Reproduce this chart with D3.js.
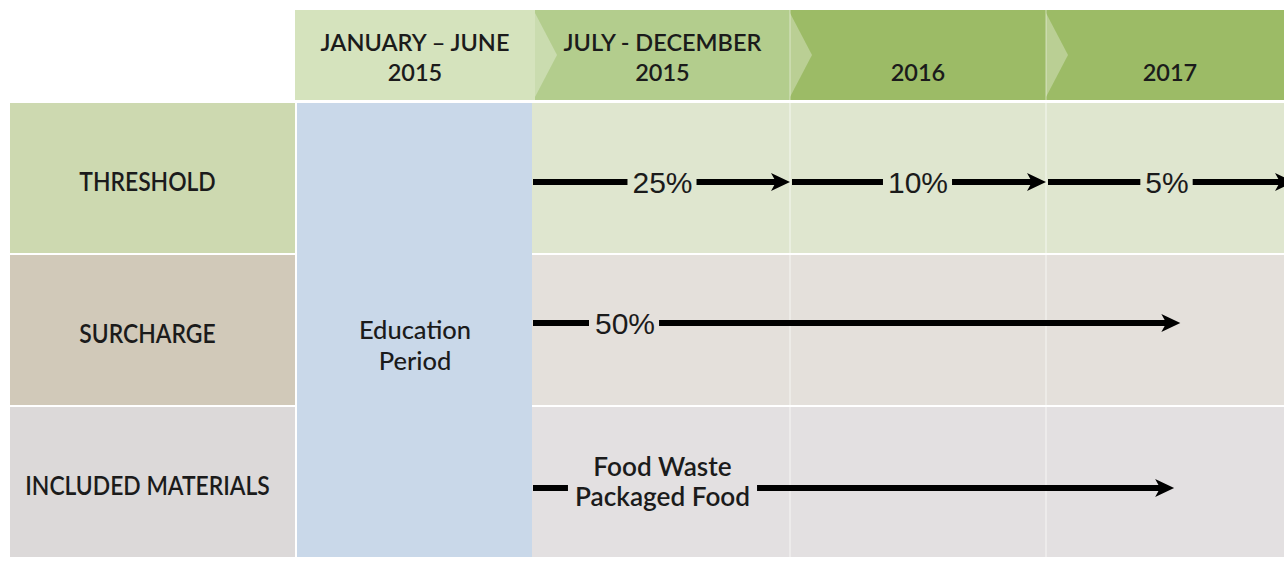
<!DOCTYPE html>
<html>
<head>
<meta charset="utf-8">
<script src="https://cdn.jsdelivr.net/npm/d3@7"></script>
<style>
  body { margin: 0; background: #fff; }
</style>
</head>
<body>
<div class="chart"></div>
<script>
//Timeline data
var periods = [["JANUARY – JUNE", "2015"], ["JULY - DECEMBER", "2015"], ["2016"], ["2017"]];
var periodStart = [0, 6, 12, 24, 36]; // months from Jan 2015
var rows = ["THRESHOLD", "SURCHARGE", "INCLUDED MATERIALS"];
var educationLabel = ["Education", "Period"];

var thresholdLabels = ["25%", "10%", "5%"];
var thresholdFrom = [6, 12, 24];
var thresholdTo = [12, 24, 36];

var surchargeLabel = "50%";
var surchargeFrom = 6;
var surchargeTo = 30.5;

var materials = ["Food Waste", "Packaged Food"];
var materialsFrom = 6;
var materialsTo = 30.2;

//Colours
var headerColors = ["#d5e3bd", "#b3cd8d", "#9cbb66", "#9cbb66"];
var labelColors = ["#cdd9b0", "#d1c9b9", "#dcd9d9"];
var bodyColors = ["#dfe6cf", "#e4e0db", "#e3e0e1"];
var eduColor = "#c9d8e9";
var ink = "#1b1b1b";

//Width and height
var w = 1284;
var h = 562;
var headTop = 10, headBottom = 100;
var labelLeft = 10;

var svg = d3.select(".chart")
    .append("svg")
    .attr("width", w)
    .attr("height", h);

//Scales
var x = d3.scaleLinear()
    .domain(periodStart)
    .range([295, 535, 790, 1046, 1294]);

var y = d3.scaleBand()
    .domain(rows)
    .range([103, 557])
    .paddingInner(0.013);

var arrowDy = [4, -7, 6];

//Header segments
var header = svg.append("g");
header.selectAll("rect")
    .data(periods)
    .join("rect")
    .attr("x", (d, i) => x(periodStart[i]))
    .attr("y", headTop)
    .attr("width", (d, i) => x(periodStart[i + 1]) - x(periodStart[i]))
    .attr("height", headBottom - headTop)
    .attr("fill", (d, i) => headerColors[i]);

var bounds = periodStart.slice(1, 4).map(d => x(d));
header.selectAll("line")
    .data(bounds.slice(1))
    .join("line")
    .attr("x1", d => d).attr("x2", d => d)
    .attr("y1", headTop).attr("y2", headBottom)
    .attr("stroke", "#fff").attr("stroke-opacity", 0.5);

header.selectAll(".chev")
    .data(bounds)
    .join("path")
    .attr("class", "chev")
    .attr("d", d => `M${d},${headTop + 3}L${d + 22},${(headTop + headBottom) / 2}L${d},${headBottom - 3}Z`)
    .attr("fill", "#fff")
    .attr("fill-opacity", 0.3);

//Header text
header.selectAll(".ht")
    .data(periods)
    .join("text")
    .attr("class", "ht")
    .attr("transform", (d, i) => `translate(${(x(periodStart[i]) + x(periodStart[i + 1])) / 2},0)`)
    .attr("text-anchor", "middle")
    .style("font-family", "Lato, sans-serif")
    .style("font-weight", 600)
    .style("font-size", "23.5px")
    .attr("fill", ink)
    .selectAll("tspan")
    .data(d => d.map((t, k) => ({t: t, k: k, n: d.length})))
    .join("tspan")
    .attr("x", 0)
    .attr("y", d => 81 - (d.n - 1 - d.k) * 30)
    .text(d => d.t);

//Row label cells and body
var body = svg.append("g");
body.selectAll(".lab")
    .data(rows)
    .join("rect")
    .attr("class", "lab")
    .attr("x", labelLeft)
    .attr("y", d => y(d))
    .attr("width", x(0) - labelLeft)
    .attr("height", y.bandwidth())
    .attr("fill", (d, i) => labelColors[i]);

body.selectAll(".cell")
    .data(rows)
    .join("rect")
    .attr("class", "cell")
    .attr("x", x(6) - 3)
    .attr("y", d => y(d))
    .attr("width", w - x(6) + 3)
    .attr("height", y.bandwidth())
    .attr("fill", (d, i) => bodyColors[i]);

body.selectAll(".sep")
    .data(bounds.slice(1))
    .join("line")
    .attr("class", "sep")
    .attr("x1", d => d).attr("x2", d => d)
    .attr("y1", y.range()[0]).attr("y2", y.range()[1])
    .attr("stroke", "#fff").attr("stroke-width", 2).attr("stroke-opacity", 0.35);

//Education period column
body.append("rect")
    .attr("x", x(0) + 2)
    .attr("y", y.range()[0])
    .attr("width", x(6) - x(0) - 5)
    .attr("height", y.range()[1] - y.range()[0])
    .attr("fill", eduColor);

body.append("text")
    .attr("transform", `translate(${(x(0) + x(6)) / 2},${y("SURCHARGE") + y.bandwidth() / 2})`)
    .attr("text-anchor", "middle")
    .style("font-family", "Lato, sans-serif")
    .style("font-weight", 500)
    .style("font-size", "25.5px")
    .attr("fill", ink)
    .selectAll("tspan")
    .data(educationLabel)
    .join("tspan")
    .attr("x", 0)
    .attr("y", (d, i) => i * 31)
    .attr("dy", "0.35em")
    .text(d => d);

//Row labels
body.selectAll(".rl")
    .data(rows)
    .join("text")
    .attr("class", "rl")
    .attr("transform", d => `translate(${(labelLeft + x(0)) / 2 - 5},${y(d) + y.bandwidth() / 2 + 4}) scale(0.88,1)`)
    .attr("text-anchor", "middle")
    .attr("dy", "0.35em")
    .style("font-family", "Lato, sans-serif")
    .style("font-weight", 600)
    .style("font-size", "26px")
    .attr("fill", ink)
    .text(d => d);

//Arrows
var arrows = svg.append("g");

function segment(x0, x1, yy) {
    arrows.append("line")
        .attr("x1", x0).attr("x2", x1)
        .attr("y1", yy).attr("y2", yy)
        .attr("stroke", "#000").attr("stroke-width", 6);
}

function head(tip, yy) {
    arrows.append("path")
        .attr("d", `M${tip},${yy}L${tip - 19},${yy - 9}L${tip - 14},${yy}L${tip - 19},${yy + 9}Z`)
        .attr("fill", "#000");
}

function rowY(name) {
    return y(name) + y.bandwidth() / 2 + arrowDy[rows.indexOf(name)];
}

//Threshold: label centred in each period
var ty = rowY("THRESHOLD");
thresholdLabels.forEach((lab, i) => {
    var x0 = x(thresholdFrom[i]) + (i === 0 ? -2 : 2);
    var x1 = x(thresholdTo[i]);
    var cx = (x(thresholdFrom[i]) + x1) / 2 - (i === 2 ? 3 : 0);
    var t = arrows.append("text")
        .attr("x", cx).attr("y", ty)
        .attr("dy", "0.35em")
        .attr("text-anchor", "middle")
        .style("font-family", "'Liberation Sans', Arial, sans-serif")
        .style("font-size", "30px")
        .attr("fill", ink)
        .text(lab);
    var tw = t.node().getComputedTextLength();
    segment(x0, cx - tw / 2 - 5, ty);
    segment(cx + tw / 2 + 4, x1 - 12, ty);
    head(x1, ty);
});

//Surcharge
var sy = rowY("SURCHARGE");
var sx0 = x(surchargeFrom) - 2;
var st = arrows.append("text")
    .attr("x", sx0 + 62).attr("y", sy)
    .attr("dy", "0.35em")
    .style("font-family", "'Liberation Sans', Arial, sans-serif")
    .style("font-size", "30px")
    .attr("fill", ink)
    .text(surchargeLabel);
var sw = st.node().getComputedTextLength();
segment(sx0, sx0 + 56, sy);
segment(sx0 + 62 + sw + 4, x(surchargeTo) - 12, sy);
head(x(surchargeTo), sy);

//Included materials
var my = rowY("INCLUDED MATERIALS");
var mcx = (x(6) + x(12)) / 2;
var msx = 0.97;
var mt = arrows.append("text")
    .attr("transform", `translate(${mcx},${my}) scale(${msx},1)`)
    .attr("text-anchor", "middle")
    .style("font-family", "Lato, sans-serif")
    .style("font-weight", 600)
    .style("font-size", "27px")
    .attr("fill", ink);
mt.selectAll("tspan")
    .data(materials)
    .join("tspan")
    .attr("x", 0)
    .attr("y", (d, i) => -21 + i * 30)
    .attr("dy", "0.35em")
    .text(d => d);
var mw = d3.max(mt.selectAll("tspan").nodes(), n => n.getComputedTextLength()) * msx;
segment(x(materialsFrom) - 2, mcx - mw / 2 - 7, my);
segment(mcx + mw / 2 + 7, x(materialsTo) - 12, my);
head(x(materialsTo), my);
</script>
</body>
</html>
